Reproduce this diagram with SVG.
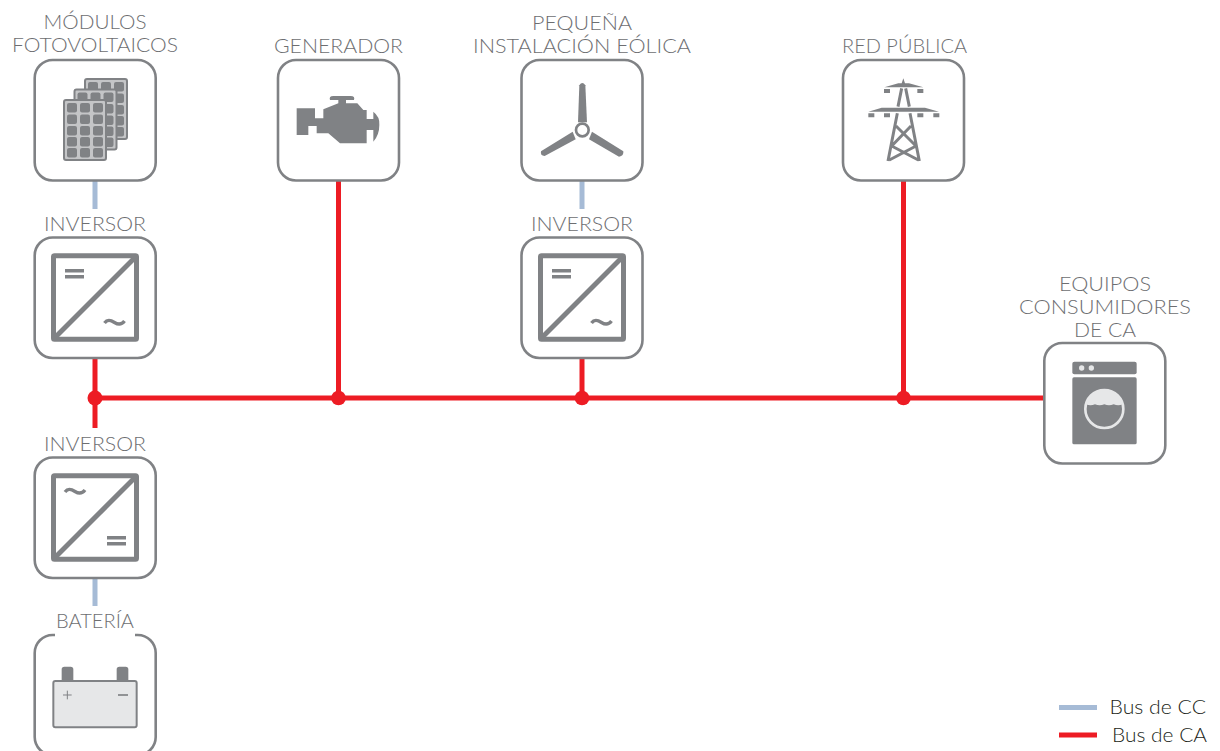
<svg xmlns="http://www.w3.org/2000/svg" width="1220" height="751" viewBox="0 0 1220 751">
<style>
.box{fill:#fff;stroke:#808285;stroke-width:2.6}
.lbl{font-family:"Lato","Liberation Sans",sans-serif;font-size:20px;font-weight:300;fill:#6d6e71;text-anchor:middle}
.leg{font-family:"Lato","Liberation Sans",sans-serif;font-size:19px;font-weight:300;fill:#231f20}
.ic{fill:#808285}
.ln{fill:none;stroke:#808285}
.ac{fill:none;stroke:#ed1c24;stroke-width:5}
.dc{fill:none;stroke:#a6bbd6;stroke-width:5}
.dot{fill:#ed1c24}
</style>
<defs>
<g id="panel"><rect width="42" height="60" rx="2" fill="#c4c5c7" stroke="#808285" stroke-width="2"/><g class="ic"><rect x="3" y="3" width="10" height="9.5" rx="2"/><rect x="16" y="3" width="10" height="9.5" rx="2"/><rect x="29" y="3" width="10" height="9.5" rx="2"/><rect x="3" y="14.500" width="10" height="9.5" rx="2"/><rect x="16" y="14.500" width="10" height="9.5" rx="2"/><rect x="29" y="14.500" width="10" height="9.5" rx="2"/><rect x="3" y="26" width="10" height="9.5" rx="2"/><rect x="16" y="26" width="10" height="9.5" rx="2"/><rect x="29" y="26" width="10" height="9.5" rx="2"/><rect x="3" y="37" width="10" height="9.5" rx="2"/><rect x="16" y="37" width="10" height="9.5" rx="2"/><rect x="29" y="37" width="10" height="9.5" rx="2"/><rect x="3" y="48" width="10" height="9.5" rx="2"/><rect x="16" y="48" width="10" height="9.5" rx="2"/><rect x="29" y="48" width="10" height="9.5" rx="2"/></g></g>
<g id="invframe"><rect x="-41.500" y="-41.700" width="83" height="83.400" rx="1" class="ln" stroke-width="5"/><path d="M-41 41L41-41" class="ln" stroke-width="5"/></g>
<path id="eq" d="M0 0h19v3.600H0zM0 6h19v3.600H0z" class="ic"/>
<path id="tilde" d="M0 3C3-1 6 0 10 2.500S17 5 20 1" class="ln" stroke-width="3.400"/>
</defs>
<g id="connectors">
<path class="dc" d="M95 180V209M582 180V209M95 578V606"/>
<path class="ac" d="M95 358V428M95 398H1044M338.500 180V398M582 358V398M903.500 180V398"/>
<circle class="dot" cx="95" cy="398" r="7.500"/><circle class="dot" cx="338.500" cy="398" r="7.300"/><circle class="dot" cx="582" cy="398" r="7.300"/><circle class="dot" cx="903.500" cy="398" r="7.300"/>
</g>
<g id="pv">
<text class="lbl" x="95" y="28.500" textLength="103" lengthAdjust="spacingAndGlyphs">MÓDULOS</text>
<text class="lbl" x="95" y="51.500" textLength="166" lengthAdjust="spacingAndGlyphs">FOTOVOLTAICOS</text>
<rect class="box" x="34.700" y="60" width="121" height="120.500" rx="18"/>
<use href="#panel" x="85" y="79"/><use href="#panel" x="74.500" y="89.500"/><use href="#panel" x="64" y="100"/>
</g>
<g id="generador">
<text class="lbl" x="338.500" y="52.500" textLength="129" lengthAdjust="spacingAndGlyphs">GENERADOR</text>
<rect class="box" x="278" y="60" width="121" height="120.500" rx="18"/>
<path class="ic" transform="translate(270 50) scale(.33333)" d="M80 175H135V205H160V178L205 160V150H180Q176 138 190 138H242Q256 138 252 150H228V160H262L280 180H290V207H310V185Q330 200 328 225Q328 255 310 275V240H290V280H210L175 250H140V228H115V255H80Z"/>
</g>
<g id="eolica">
<text class="lbl" x="582" y="29.500" textLength="100" lengthAdjust="spacingAndGlyphs">PEQUEÑA</text>
<text class="lbl" x="582" y="52.500" textLength="218" lengthAdjust="spacingAndGlyphs">INSTALACIÓN EÓLICA</text>
<rect class="box" x="521.500" y="60" width="121" height="120.500" rx="18"/>
<g transform="translate(510 50) scale(.33333)">
<circle cx="217" cy="240" r="19" fill="#fff" stroke="#808285" stroke-width="8"/>
<path class="ic" d="M204 217L208 106Q217 92 226 106L231 217Z"/>
<path class="ic" d="M188 245L197 268L104 318Q90 318 93 304Z"/>
<path class="ic" d="M246 245L237 268L327 320Q342 318 340 304Z"/>
</g>
</g>
<g id="red">
<text class="lbl" x="904.500" y="52.500" textLength="125" lengthAdjust="spacingAndGlyphs">RED PÚBLICA</text>
<rect class="box" x="843" y="60" width="121" height="120.500" rx="18"/>
<g transform="translate(835 50) scale(.33333)">
<path class="ic" d="M148 112L190 100H200L205 85L210 100H222L265 112ZM100 185L140 173H270L312 185Z"/>
<path class="ic" d="M147 117h18v12h-18zM247 117h18v12h-18zM100 190h18v12h-18zM147 190h18v12h-18zM247 190h18v12h-18zM295 190h18v12h-18z"/>
<path class="ln" stroke-width="9" d="M200 115L189 170M212 115L223 170M187 190L159 333M225 190L253 333M183 228L243 288M228 228L170 288M170 288L250 330M243 288L163 330"/>
</g>
</g>
<g id="consumidores">
<text class="lbl" x="1105" y="290.500" textLength="92" lengthAdjust="spacingAndGlyphs">EQUIPOS</text>
<text class="lbl" x="1105" y="313.500" textLength="172" lengthAdjust="spacingAndGlyphs">CONSUMIDORES</text>
<text class="lbl" x="1105" y="336.500" textLength="62" lengthAdjust="spacingAndGlyphs">DE CA</text>
<rect class="box" x="1044.300" y="343" width="121" height="120.500" rx="18"/>
<g transform="translate(1030 335) scale(.33333)">
<rect class="ic" x="127" y="80" width="193" height="38" rx="6"/>
<circle cx="155" cy="99" r="8" fill="#e6e7e8"/><circle cx="184" cy="99" r="8" fill="#e6e7e8"/>
<rect class="ic" x="127" y="127" width="193" height="201" rx="5"/>
<path d="M168 208A57 57 0 0 1 278 208Q265 214 251 208Q237 214 223 208Q209 214 195 208Q181 214 168 208Z" fill="#e6e7e8"/>
<circle cx="223" cy="222" r="57" fill="none" stroke="#e6e7e8" stroke-width="8"/>
</g>
</g>
<g id="inversor1">
<text class="lbl" x="95" y="230.500" textLength="102" lengthAdjust="spacingAndGlyphs">INVERSOR</text>
<rect class="box" x="34.700" y="237.500" width="121" height="120.500" rx="18"/>
<use href="#invframe" x="95" y="297.500"/>
<use href="#eq" x="65" y="269"/><use href="#tilde" x="104.500" y="320"/>
</g>
<g id="inversor2">
<text class="lbl" x="582" y="230.500" textLength="102" lengthAdjust="spacingAndGlyphs">INVERSOR</text>
<rect class="box" x="521.500" y="237.500" width="121" height="120.500" rx="18"/>
<use href="#invframe" x="582" y="297.500"/>
<use href="#eq" x="552" y="269"/><use href="#tilde" x="591.500" y="320"/>
</g>
<g id="inversor3">
<text class="lbl" x="95" y="450.500" textLength="102" lengthAdjust="spacingAndGlyphs">INVERSOR</text>
<rect class="box" x="34.700" y="457.500" width="121" height="120.500" rx="18"/>
<use href="#invframe" x="95" y="517.500"/>
<use href="#tilde" x="65" y="489"/><use href="#eq" x="107" y="536"/>
</g>
<g id="bateria">
<text class="lbl" x="95" y="627.500" textLength="78" lengthAdjust="spacingAndGlyphs">BATERÍA</text>
<path class="box" style="fill:none" d="M55 635H52.700A18 18 0 0 0 34.700 653V737A18 18 0 0 0 52.700 755H137.700A18 18 0 0 0 155.700 737V653A18 18 0 0 0 137.700 635H135"/>
<g transform="translate(25 600) scale(.33333)">
<path class="ic" d="M110 245V208Q110 200 118 200H137Q145 200 145 208V245ZM275 245V208Q275 200 283 200H302Q310 200 310 208V245Z"/>
<rect x="85" y="243" width="250" height="139" rx="6" fill="#e6e7e8" stroke="#808285" stroke-width="6"/>
<path d="M127 272V298M114 285H140" fill="none" stroke="#808285" stroke-width="3"/>
<path d="M279 285H309" fill="none" stroke="#808285" stroke-width="5"/>
</g>
</g>
<g id="leyenda">
<path class="dc" d="M1059 707.500H1097"/>
<path class="ac" d="M1059 735H1097"/>
<text class="leg" x="1109.500" y="714" textLength="96.500" lengthAdjust="spacingAndGlyphs">Bus de CC</text>
<text class="leg" x="1112" y="742" textLength="95" lengthAdjust="spacingAndGlyphs">Bus de CA</text>
</g>
</svg>
